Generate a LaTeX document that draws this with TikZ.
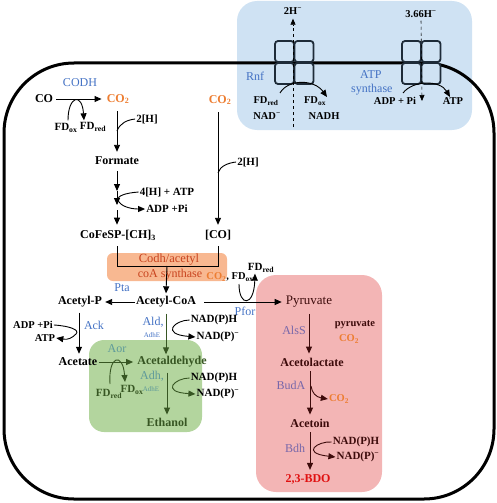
\documentclass[tikz,border=0pt]{standalone}
\usepackage{fontspec}
\setmainfont{Liberation Serif}
\usetikzlibrary{arrows.meta}
\definecolor{enzblue}{HTML}{4472C4}
\definecolor{cotwo}{HTML}{ED7D31}
\definecolor{bluebox}{HTML}{CFE2F3}
\definecolor{codhfill}{HTML}{F8B891}
\definecolor{codhtext}{HTML}{C8431E}
\definecolor{greenbox}{HTML}{B3D59E}
\definecolor{dkgreen}{HTML}{375623}
\definecolor{tealc}{HTML}{5E9A9A}
\definecolor{pinkbox}{HTML}{F3B5B5}
\definecolor{maroonc}{HTML}{3D0B0B}
\definecolor{purp}{HTML}{7767AA}
\definecolor{bdo}{HTML}{E01010}
\definecolor{gridc}{HTML}{1E2B38}
\begin{document}
\begin{tikzpicture}[x=1pt,y=-1pt,
  every node/.style={inner sep=1pt},
  met/.style={font=\fontsize{12}{12}\selectfont\bfseries},
  enz/.style={font=\fontsize{12}{12}\selectfont, text=enzblue},
  sm/.style={font=\fontsize{11}{11}\selectfont\bfseries},
  smr/.style={font=\fontsize{10.5}{10.5}\selectfont\bfseries},
  tinyl/.style={font=\fontsize{7}{7}\selectfont},
  arr/.style={line width=0.9pt, -{Triangle[length=7pt,width=6pt]}},
  ln/.style={line width=0.9pt},
  dash arr/.style={dashed, line width=0.6pt, -{Triangle[length=6pt,width=5pt]}},
  gridsq/.style={draw=gridc, line width=1.8pt, rounded corners=3pt, fill=bluebox},
]
\useasboundingbox (0,0) rectangle (497,503);
% ---------- background boxes ----------
\fill[bluebox, rounded corners=20pt] (237,1) rectangle (472,130);
\draw[line width=3pt, rounded corners=70pt] (4,63) rectangle (494,499);
\foreach \gx in {275,402}{
  \foreach \i in {0,1}{
    \foreach \j in {0,1}{
      \draw[gridsq] (\gx+\i*19.5,41+\j*22) rectangle ++(19,21);
    }}}
\fill[codhfill, rounded corners=6pt] (107,253) rectangle (227,281);
\fill[greenbox, rounded corners=15pt] (89,340) rectangle (202,432);
\fill[pinkbox, rounded corners=20pt] (256,275) rectangle (382,492);

% ---------- membrane complexes ----------
\node[smr] (h2) at (293,11) {2H\textsuperscript{−}};
\node[smr] (h366) at (421,14) {3.66H\textsuperscript{−}};
\coordinate (rnfbot) at (293,127);
\coordinate (atpbot) at (422,101);
\draw[dash arr, shorten >=3pt] (rnfbot) -- (h2.south);
\draw[dash arr, shorten <=2pt] (h366.south) -- (atpbot);
\node[enz] (rnf) at (255,76) {Rnf};
\node[smr] (fdr0) at (266,101) {FD\textsubscript{red}};
\node[smr] (nad0) at (267,116) {NAD\textsuperscript{−}};
\node[smr] (fdo0) at (315,101) {FD\textsubscript{ox}};
\node[smr] (nadh0) at (324,116) {NADH};
\node[enz, anchor=west] (atps1) at (359,75) {ATP};
\node[enz, anchor=west] (atps2) at (350,90) {synthase};
\node[smr] (adp0) at (395,101) {ADP + Pi};
\node[smr] (atp0) at (453,101) {ATP};
\coordinate (rnfa) at (280,93);
\coordinate (rnfb) at (327,97);
\draw[arr] (rnfa) .. controls (288,79) and (314,79) .. (rnfb);
\coordinate (atpa) at (403,93);
\coordinate (atpb) at (450,97);
\draw[arr] (atpa) .. controls (413,80) and (440,80) .. (atpb);

% ---------- Wood-Ljungdahl ----------
\node[met] (co) at (44,99) {CO};
\node[enz] (codh) at (80,83) {CODH};
\node[met, text=cotwo] (co2a) at (118,99) {CO\textsubscript{2}};
\draw[arr] ([xshift=2pt]co.east) -- ([xshift=-4pt]co2a.west);
\node[sm] (fdox1) at (66,128) {FD\textsubscript{ox}};
\node[sm] (fdred1) at (93,127) {FD\textsubscript{red}};
\draw[arr] ([xshift=2pt,yshift=2pt]fdox1.north) .. controls (68,96) and (82,92) .. ([xshift=-9pt,yshift=1pt]fdred1.north);
\node[met] (formate) at (117,161) {Formate};
\draw[arr, shorten <=6pt, shorten >=4pt] (co2a.south -| formate.north) -- (formate.north);
\node[sm] (h2a) at (147,119) {2[H]};
\draw[ln] (h2a.west) .. controls (127,120) and (120,123) .. (117,131);

\node[sm] (h4) at (167,192) {4[H] + ATP};
\node[sm] (adp1) at (167,209) {ADP +Pi};
\node[met] (cofesp) at (118,235) {CoFeSP-[CH]\textsubscript{3}};
\coordinate (f1) at (117,191);
\coordinate (f2) at (117,205);
\coordinate (f3) at (117,210);
\draw[arr, shorten <=5pt] (formate.south) -- (f1);
\draw[arr] (f1) -- (f2);
\draw[arr] (f3) -- ([yshift=4pt]cofesp.north -| f3);
\draw[ln] (h4.west) .. controls (125,193) and (117,196) .. (118,200);
\draw[arr] (118,200) .. controls (120,206) and (130,209) .. (adp1.west);

\node[met, text=cotwo] (co2b) at (220,100) {CO\textsubscript{2}};
\node[met] (cob) at (218,235) {[CO]};
\draw[arr, shorten <=6pt, shorten >=4pt] (co2b.south -| cob.north) -- (cob.north);
\node[sm] (h2b) at (248,162) {2[H]};
\draw[ln] (h2b.west) .. controls (228,163) and (220,166) .. (218,173);

% ---------- Codh / acetyl-CoA synthase ----------
\node[font=\fontsize{12.5}{12.5}\selectfont, text=codhtext] (codhl) at (169,260) {Codh/acetyl};
\node[font=\fontsize{12}{12}\selectfont, text=codhtext] (codhl2) at (170,275) {coA synthase};
\coordinate (cj) at (167,266);
\draw[ln] ([yshift=-5pt]cofesp.south -| f3) -- (f3 |- cj) -- (cob.south |- cj) -- ([yshift=-5pt]cob.south);
\node[met] (acoa) at (166,302) {Acetyl-CoA};
\draw[arr] (cj) -- ([yshift=2pt]acoa.north);
\node[smr] (cofd) at (230,277) {{\color{cotwo}CO\textsubscript{2}}, FD\textsubscript{ox}};
\node[sm] (fdred2) at (261,268) {FD\textsubscript{red}};
\coordinate (pf1) at (239,284);
\draw[arr] (pf1) .. controls (239,307) and (254,307) .. ([xshift=-6pt]fdred2.south);
\node[enz] (pfor) at (245,311) {Pfor};
\node[enz] (pta) at (122,288) {Pta};

% ---------- acetate branch ----------
\node[met] (acp) at (80,302) {Acetyl-P};
\draw[arr, shorten >=2pt] (acoa.west) -- (acp.east);
\node[met] (acetate) at (78,362) {Acetate};
\draw[arr, shorten <=4pt, shorten >=3pt] (acp.south -| 79,0) -- (acetate.north -| 79,0);
\node[enz] (ack) at (94,325) {Ack};
\node[smr] (adp2) at (33,325) {ADP +Pi};
\node[smr] (atp2) at (45,338) {ATP};
\draw[arr] (adp2.east) .. controls (70,326) and (80,330) .. (76,334) .. controls (72,338) and (68,340) .. (atp2.east);

% ---------- ethanol branch ----------
\node[font=\fontsize{12}{12}\selectfont, text=tealc] (aor) at (117,349) {Aor};
\node[met, text=dkgreen] (acald) at (172,362) {Acetaldehyde};
\draw[arr, dkgreen, shorten >=3pt] (acetate.east) -- (acald.west);
\node[sm, text=dkgreen] (fdred3) at (109,394) {FD\textsubscript{red}};
\node[sm, text=dkgreen] (fdox3) at (132,390) {FD\textsubscript{ox}};
\coordinate (ao1) at (110,384);
\coordinate (ao2) at (125,382);
\draw[arr, dkgreen] (ao1) .. controls (108,355) and (123,352) .. (ao2);
\node[enz] (ald) at (153,322) {Ald,};
\node[tinyl, text=enzblue] (adhe1) at (152,335) {AdhE};
\draw[arr, dkgreen, shorten <=5pt] (acoa.south) -- ([yshift=1pt]acald.north -| acoa.south);
\node[sm] (nadph1) at (214,320) {NAD(P)H};
\node[sm] (nadp1) at (218,337) {NAD(P)\textsuperscript{−}};
\draw[arr] (nadph1.west) .. controls (175,320) and (160,334) .. (nadp1.west);

\node[font=\fontsize{12}{12}\selectfont, text=tealc] (adh) at (152,376) {Adh,};
\node[tinyl, text=tealc] (adhe2) at (151,389) {AdhE};
\node[met, text=dkgreen] (ethanol) at (167,422) {Ethanol};
\draw[arr, dkgreen, shorten <=4pt, shorten >=2pt] (acald.south -| ethanol.north) -- (ethanol.north);
\node[sm] (nadph2) at (214,378) {NAD(P)H};
\node[sm] (nadp2) at (218,394) {NAD(P)\textsuperscript{−}};
\draw[arr, dkgreen] (nadph2.west) .. controls (175,378) and (160,392) .. (nadp2.west);

% ---------- 2,3-BDO branch ----------
\node[font=\fontsize{13}{13}\selectfont, text=maroonc] (pyr) at (309,302) {Pyruvate};
\draw[arr, shorten <=5pt, shorten >=3pt] ([xshift=2pt]acoa.east) -- (pyr.west);
\node[met, text=maroonc] (acl) at (312,362) {Acetolactate};
\draw[arr, maroonc, shorten <=5pt, shorten >=3pt] (pyr.south) -- (acl.north -| pyr.south);
\node[enz, text=purp] (alss) at (294,330) {AlsS};
\node[smr, text=maroonc] (pyrl) at (355,325) {pyruvate};
\node[smr, text=cotwo] (co2c) at (349,339) {CO\textsubscript{2}};
\node[met, text=maroonc] (acetoin) at (310,423) {Acetoin};
\draw[arr, maroonc, shorten <=4pt, shorten >=3pt] (acl.south -| acetoin.north) -- (acetoin.north);
\node[enz, text=purp] (buda) at (291,385) {BudA};
\node[smr, text=cotwo] (co2d) at (339,399) {CO\textsubscript{2}};
\coordinate (bu1) at (311,386);
\draw[arr, maroonc] (bu1) .. controls (312,393) and (316,397) .. (co2d.west);
\node[met, text=bdo] (bdo) at (308,479) {2,3-BDO};
\draw[arr, maroonc, shorten <=4pt, shorten >=3pt] (acetoin.south) -- (bdo.north -| acetoin.south);
\node[enz, text=purp] (bdh) at (295,448) {Bdh};
\node[sm, text=maroonc] (nadph3) at (356,442) {NAD(P)H};
\node[sm, text=maroonc] (nadp3) at (358,457) {NAD(P)\textsuperscript{−}};
\draw[arr, maroonc] (nadph3.west) .. controls (318,441) and (300,453) .. (nadp3.west);
\end{tikzpicture}
\end{document}
